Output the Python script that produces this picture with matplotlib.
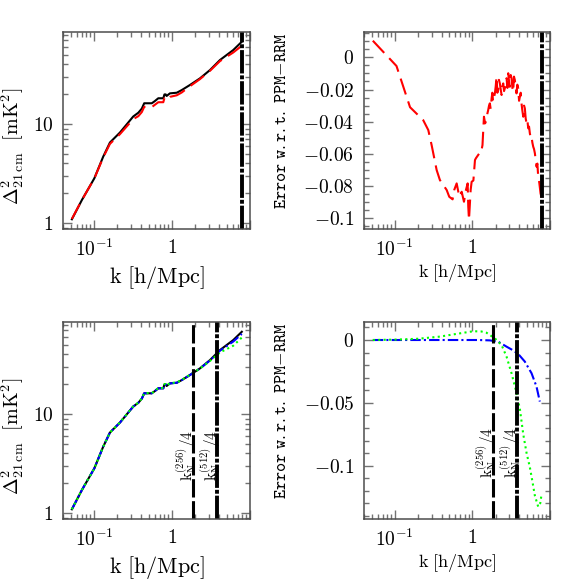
import numpy as np
import matplotlib
matplotlib.use('Agg')
import matplotlib.pyplot as plt
from matplotlib.ticker import LogLocator, MultipleLocator, FuncFormatter, NullFormatter

plt.rcParams['mathtext.fontset'] = 'cm'
plt.rcParams['font.family'] = ['DejaVu Serif']

# --- power spectrum, reference run (black) and PPM run (red) ---
k_ps = [0.052, 0.07, 0.101, 0.131, 0.160, 0.215, 0.318, 0.37, 0.41, 0.44, 0.55, 0.60,
        0.667, 0.773, 0.80, 0.83, 0.853, 0.94, 1.15, 1.33, 1.7, 2.28, 3.07, 4.12, 6.1, 7.85]
ps_ref = [1.09, 1.71, 2.83, 4.67, 6.5, 8.2, 11.9, 13.0, 14.3, 16.2, 16.2, 17.0,
          18.2, 18.2, 19.9, 19.9, 19.2, 20.4, 20.7, 22.0, 24.8, 28.9, 35.1, 44.3, 55.9, 67.8]
ps_ppm = [1.10, 1.71, 2.82, 4.59, 6.3, 7.9, 11.2, 12.0, 13.2, 14.9, 14.8, 15.6,
          16.6, 16.6, 18.3, 18.3, 17.6, 18.8, 19.5, 20.8, 24.1, 28.4, 34.5, 43.2, 52.8, 61.8]
# bottom: two resolutions
ps_512 = [1.09, 1.71, 2.83, 4.67, 6.5, 8.2, 11.9, 13.0, 14.3, 16.2, 16.2, 17.0,
          18.2, 18.2, 19.9, 19.9, 19.2, 20.4, 20.7, 22.0, 24.8, 28.8, 34.8, 43.7, 54.0, 64.5]
ps_256 = [1.09, 1.71, 2.83, 4.67, 6.5, 8.22, 11.93, 13.04, 14.34, 16.27, 16.28, 17.09,
          18.3, 18.31, 20.02, 20.03, 19.33, 20.54, 20.85, 22.14, 24.95, 28.8, 34.4, 41.9, 49.0, 59.3]

# --- relative error, top right ---
k_err = [0.052, 0.105, 0.157, 0.232, 0.27, 0.298, 0.346, 0.381, 0.421, 0.466, 0.503, 0.556,
         0.583, 0.627, 0.678, 0.728, 0.779, 0.826, 0.869, 0.885, 0.904, 0.95, 0.978, 1.03,
         1.08, 1.11, 1.23, 1.29, 1.35, 1.41, 1.46, 1.52, 1.56, 1.60, 1.64, 1.68, 1.72, 1.77,
         1.81, 1.85, 1.90, 1.95, 2.0, 2.05, 2.10, 2.15, 2.20, 2.26, 2.32, 2.38, 2.44, 2.50,
         2.56, 2.62, 2.69, 2.76, 2.83, 2.90, 2.97, 3.04, 3.12, 3.20, 3.28, 3.36, 3.44, 3.53,
         3.62, 3.71, 3.80, 3.90, 4.0, 4.10, 4.20, 4.30, 4.41, 4.53, 4.64, 4.75, 4.87, 5.00,
         5.12, 5.25, 5.38, 5.51, 5.65, 5.79, 5.94, 6.09, 6.24, 6.40, 6.56, 6.72, 6.89, 7.06,
         7.3, 7.57, 7.85]
err_ppm = [0.0103, -0.0054, -0.031, -0.039, -0.0452, -0.0545, -0.070, -0.0762, -0.0793, -0.0824,
           -0.0866, -0.0882, -0.0824, -0.0783, -0.0866, -0.0835, -0.0897, -0.0824, -0.0783, -0.0928,
           -0.101, -0.0824, -0.0773, -0.0765, -0.0638, -0.0627, -0.0596, -0.0596, -0.0545, -0.0369,
           -0.041, -0.039, -0.035, -0.0327, -0.030, -0.0286, -0.032, -0.0255, -0.022, -0.0276,
           -0.025, -0.0224, -0.018, -0.012, -0.022, -0.0203, -0.014, -0.0162, -0.020, -0.0234,
           -0.018, -0.0162, -0.021, -0.0193, -0.016, -0.013, -0.019, -0.0099, -0.015, -0.0183,
           -0.011, -0.013, -0.019, -0.0214, -0.012, -0.0141, -0.019, -0.0224, -0.017, -0.0193,
           -0.027, -0.0245, -0.022, -0.0286, -0.033, -0.0369, -0.030, -0.0317, -0.038, -0.041,
           -0.039, -0.0441, -0.043, -0.0472, -0.050, -0.0493, -0.053, -0.0555, -0.057, -0.0596,
           -0.064, -0.0679, -0.066, -0.0741, -0.078, -0.0845, -0.0876]

# --- relative error, bottom right ---
k_err512 = [0.052, 0.5, 1.2, 1.68, 2.15, 2.76, 3.3, 3.9, 4.75, 5.8, 6.72, 7.41]
err_512 = [0.0, 0.0, 0.0, -0.0003, -0.0013, -0.0053, -0.008, -0.0111, -0.0172, -0.0265, -0.0372, -0.049]
k_err256 = [0.052, 0.1, 0.2, 0.38, 0.69, 1.03, 1.3, 1.52, 1.95, 2.38, 2.76, 3.2, 3.64, 4.1,
            4.53, 5.0, 5.5, 6.0, 6.4, 7.06, 7.5, 7.8]
err_256 = [0.0, 0.0003, 0.001, 0.0027, 0.0053, 0.007, 0.0068, 0.0058, 0.0013, -0.004, -0.0133,
           -0.0265, -0.040, -0.055, -0.075, -0.090, -0.101, -0.114, -0.124, -0.1327, -0.130, -0.123]

k_cut_top = 7.85
k_n256 = 1.85
k_n512 = 3.75

DASH = (0, (8, 3.5))
DASHDOT = (0, (5, 1.5, 1, 1.5))
DOT = (0, (1, 1.6))
THICK_DD = (0, (6, 0.5, 1, 0.5))


def xlog_fmt(v, pos):
    if abs(v - 0.1) < 1e-9:
        return r'$10^{-1}$'
    if abs(v - 1) < 1e-9:
        return r'$1$'
    return ''


def ylog_fmt(v, pos):
    if abs(v - 1) < 1e-9:
        return r'$1$'
    if abs(v - 10) < 1e-9:
        return r'$10$'
    return ''


def lin_fmt(v, pos):
    if abs(v) < 1e-9:
        return r'$0$'
    return r'$%g$' % v


def style(ax):
    for sp in ax.spines.values():
        sp.set_color('0.3')
        sp.set_linewidth(1.1)
    ax.tick_params(which='both', direction='in', top=True, right=True,
                   color='0.45', width=1, labelsize=14, pad=7)
    ax.tick_params(which='major', length=6.5)
    ax.tick_params(which='minor', length=3.6)
    ax.set_xscale('log')
    ax.set_xlim(0.04, 10)
    ax.xaxis.set_major_locator(LogLocator(base=10))
    ax.xaxis.set_minor_locator(LogLocator(base=10, subs=np.arange(2, 10)))
    ax.xaxis.set_major_formatter(FuncFormatter(xlog_fmt))
    ax.xaxis.set_minor_formatter(NullFormatter())


def style_ps(ax):
    style(ax)
    ax.set_yscale('log')
    ax.set_ylim(0.87, 85)
    ax.yaxis.set_major_locator(LogLocator(base=10))
    ax.yaxis.set_minor_locator(LogLocator(base=10, subs=np.arange(2, 10)))
    ax.yaxis.set_major_formatter(FuncFormatter(ylog_fmt))
    ax.yaxis.set_minor_formatter(NullFormatter())
    ax.set_xlabel(r'$\mathrm{k\ [h/Mpc]}$', fontsize=16)
    ax.set_ylabel(r'$\Delta^2_{\mathrm{21\,cm}}\ \ [\mathrm{mK^2}]$', fontsize=14.5)
    ax.xaxis.set_label_coords(0.5, -0.18)
    ax.yaxis.set_label_coords(-0.2, 0.42)


def style_err(ax, ylim, major, minor):
    style(ax)
    ax.set_ylim(*ylim)
    ax.yaxis.set_major_locator(MultipleLocator(major))
    ax.yaxis.set_minor_locator(MultipleLocator(minor))
    ax.yaxis.set_major_formatter(FuncFormatter(lin_fmt))
    ax.set_xlabel(r'$\mathrm{k\ [h/Mpc]}$', fontsize=13)
    ax.set_ylabel(r'$\mathtt{Error\ w.r.t.\ PPM{-}RRM}$', fontsize=12.5)
    ax.xaxis.set_label_coords(0.5, -0.17)
    ax.yaxis.set_label_coords(-0.4, 0.548)


fig = plt.figure(figsize=(5.81, 5.81), dpi=100)
ax1 = fig.add_axes([0.1084, 0.6059, 0.3219, 0.339])
ax2 = fig.add_axes([0.6265, 0.6059, 0.320, 0.339])
ax3 = fig.add_axes([0.1084, 0.1067, 0.3219, 0.339])
ax4 = fig.add_axes([0.6265, 0.1067, 0.320, 0.339])

# top left
ax1.plot(k_ps, ps_ref, color='k', lw=1.5)
ax1.plot(k_ps, ps_ppm, color='r', lw=1.5, ls=DASH)
ax1.axvline(k_cut_top, color='k', lw=2.8, ls=THICK_DD)
style_ps(ax1)

# top right
ax2.plot(k_err, err_ppm, color='r', lw=1.5, ls=DASH)
ax2.axvline(k_cut_top, color='k', lw=2.8, ls=THICK_DD)
style_err(ax2, (-0.1066, 0.0157), 0.02, 0.005)

# bottom left
ax3.plot(k_ps, ps_ref, color='k', lw=1.5)
ax3.plot(k_ps, ps_512, color='b', lw=1.5, ls=DASHDOT)
ax3.plot(k_ps, ps_256, color='#00ff00', lw=1.5, ls=DOT)
ax3.axvline(k_n256, color='k', lw=2.2, ls=(0, (6, 1.2)))
ax3.axvline(k_n512, color='k', lw=2.8, ls=THICK_DD)
style_ps(ax3)
for kx, lab in [(k_n256, r'$\mathrm{k_N^{(256)}/4}$'), (k_n512, r'$\mathrm{k_N^{(512)}/4}$')]:
    ax3.text(kx, 2.1, lab, rotation=90, rotation_mode='anchor', ha='left', va='baseline', fontsize=11)

# bottom right
ax4.plot(k_err512, err_512, color='b', lw=1.5, ls=DASHDOT)
ax4.plot(k_err256, err_256, color='#00ff00', lw=1.5, ls=DOT)
ax4.axvline(k_n256, color='k', lw=2.2, ls=(0, (6, 1.2)))
ax4.axvline(k_n512, color='k', lw=2.8, ls=THICK_DD)
style_err(ax4, (-0.1425, 0.0143), 0.05, 0.01)
for kx, lab in [(k_n256, r'$\mathrm{k_N^{(256)}/4}$'), (k_n512, r'$\mathrm{k_N^{(512)}/4}$')]:
    ax4.text(kx, -0.110, lab, rotation=90, rotation_mode='anchor', ha='left', va='baseline', fontsize=11)

fig.savefig('out.png', dpi=100)
